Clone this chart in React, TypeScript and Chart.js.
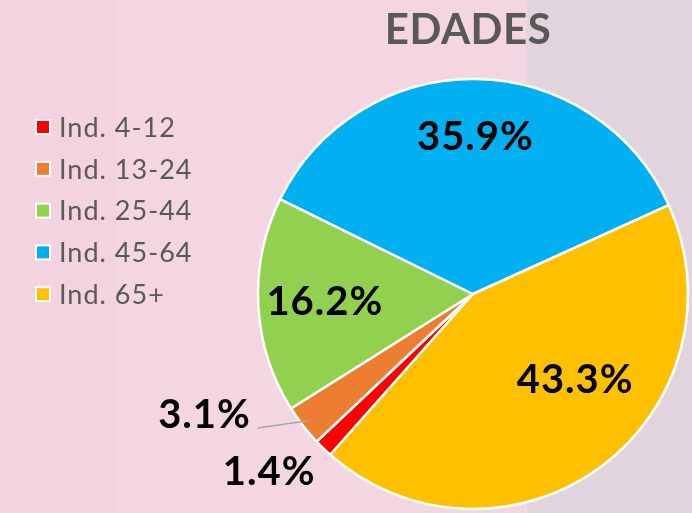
import React, { useEffect, useRef } from "react";
import { Chart, registerables } from "chart.js";

Chart.register(...registerables);

const categories = ["Ind. 4-12", "Ind. 13-24", "Ind. 25-44", "Ind. 45-64", "Ind. 65+"];
const values = [1.4, 3.1, 16.2, 35.9, 43.3];
const valueLabels = ["1.4%", "3.1%", "16.2%", "35.9%", "43.3%"];
const colors = ["#ff0000", "#ed7d31", "#92d050", "#00b0f0", "#ffc000"];
const titleText = "EDADES";

// label placement styles: radius factor, angle shift (deg), leader line
const labelPlacement = [
  { r: 1.26, da: 4.7, leader: false },
  { r: 1.37, da: 13.5, leader: true },
  { r: 0.69, da: 0, leader: false },
  { r: 0.73, da: 0, leader: false },
  { r: 0.62, da: -13.6, leader: false },
];

const bgPlugin = {
  id: "bgBands",
  beforeDraw(chart: any) {
    const { ctx, width, height } = chart;
    ctx.save();
    ctx.fillStyle = "#f3d6e1";
    ctx.fillRect(0, 0, width, height);
    ctx.fillStyle = "#f2d3df";
    ctx.fillRect(0, 0, 117, height);
    ctx.fillStyle = "#e1d4dc";
    ctx.fillRect(527, 0, width - 527, height);
    ctx.restore();
  },
};

const titlePlugin = {
  id: "titleText",
  afterDraw(chart: any) {
    const { ctx } = chart;
    ctx.save();
    ctx.fillStyle = "#595959";
    ctx.font = "bold 42px Lato";
    (ctx as any).letterSpacing = "0.5px";
    ctx.textAlign = "center";
    ctx.textBaseline = "middle";
    ctx.fillText(titleText, 468, 30);
    ctx.restore();
  },
};

const legendPlugin = {
  id: "customLegend",
  afterDraw(chart: any) {
    const { ctx } = chart;
    const labels = chart.data.labels as string[];
    const bg = chart.data.datasets[0].backgroundColor as string[];
    ctx.save();
    labels.forEach((lab, i) => {
      const y = 127 + i * 41.8;
      ctx.fillStyle = "#ffffff";
      ctx.fillRect(35, y - 8, 16, 16);
      ctx.fillStyle = bg[i];
      ctx.fillRect(37, y - 6, 12, 12);
      ctx.fillStyle = "#595959";
      ctx.font = "27px Lato";
      (ctx as any).letterSpacing = "1px";
      ctx.textAlign = "left";
      ctx.textBaseline = "middle";
      ctx.fillText(lab, 59, y + 1);
    });
    ctx.restore();
  },
};

const dataLabelPlugin = {
  id: "sliceLabels",
  afterDatasetsDraw(chart: any) {
    const { ctx } = chart;
    const meta = chart.getDatasetMeta(0);
    ctx.save();
    meta.data.forEach((arc: any, i: number) => {
      const p = arc.getProps(["x", "y", "startAngle", "endAngle", "outerRadius"], true);
      const mid = (p.startAngle + p.endAngle) / 2;
      const pl = labelPlacement[i];
      const a = mid + (pl.da * Math.PI) / 180;
      const lx = p.x + Math.cos(a) * p.outerRadius * pl.r;
      const ly = p.y + Math.sin(a) * p.outerRadius * pl.r;
      if (pl.leader) {
        const ex = p.x + Math.cos(mid) * p.outerRadius * 0.96;
        const ey = p.y + Math.sin(mid) * p.outerRadius * 0.96;
        const la = mid + (5.9 * Math.PI) / 180;
        const sx = p.x + Math.cos(la) * p.outerRadius * 1.18;
        const sy = p.y + Math.sin(la) * p.outerRadius * 1.18;
        ctx.strokeStyle = "#a6a6a6";
        ctx.lineWidth = 1.5;
        ctx.beginPath();
        ctx.moveTo(sx, sy);
        ctx.lineTo(ex, ey);
        ctx.stroke();
      }
      ctx.fillStyle = "#000000";
      ctx.font = "bold 40px Lato";
      (ctx as any).letterSpacing = "1px";
      ctx.textAlign = "center";
      ctx.textBaseline = "middle";
      ctx.fillText(valueLabels[i], lx, ly);
    });
    ctx.restore();
  },
};

export default function App() {
  const ref = useRef<HTMLCanvasElement>(null);
  useEffect(() => {
    if (!ref.current) return;
    const chart = new Chart(ref.current, {
      type: "pie",
      data: {
        labels: categories,
        datasets: [
          {
            data: values,
            backgroundColor: colors,
            borderColor: "#ffffff",
            borderWidth: 2.5,
            hoverOffset: 0,
          },
        ],
      },
      options: {
        animation: false,
        responsive: false,
        rotation: 221.6,
        radius: 215,
        layout: { padding: { left: 258, right: 4, top: 79, bottom: 4 } },
        plugins: {
          legend: { display: false },
          tooltip: { enabled: false },
          title: { display: false },
        },
      },
      plugins: [bgPlugin, titlePlugin, legendPlugin, dataLabelPlugin],
    });
    return () => chart.destroy();
  }, []);
  return (
    <div style={{ position: "absolute", left: 0, top: 0, width: 692, height: 513 }}>
      <canvas ref={ref} width={692} height={513} style={{ display: "block" }} />
    </div>
  );
}
